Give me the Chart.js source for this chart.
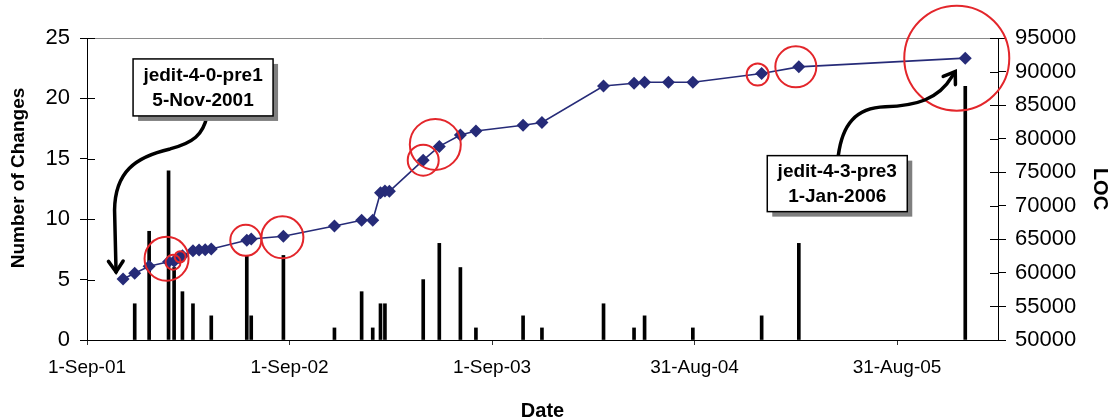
<!DOCTYPE html>
<html>
<head>
<meta charset="utf-8">
<script src="https://cdn.jsdelivr.net/npm/chart.js@4/dist/chart.umd.min.js"></script>
<style>
  html, body { margin: 0; padding: 0; background: #fff; }
</style>
</head>
<body>
<canvas id="chart" width="1112" height="419"></canvas>
<script>
// DATA (one entry per release)
const releaseDates = [
    '2001-11-05', '2001-11-26', '2001-12-22', '2002-01-26', '2002-02-05',
    '2002-02-14', '2002-02-20', '2002-03-11', '2002-03-22', '2002-04-02',
    '2002-04-13', '2002-06-16', '2002-06-24', '2002-08-21', '2002-11-21',
    '2003-01-09', '2003-01-29', '2003-02-12', '2003-02-20', '2003-02-28',
    '2003-04-30', '2003-05-29', '2003-07-06', '2003-08-03', '2003-10-27',
    '2003-11-30', '2004-03-20', '2004-05-14', '2004-06-02', '2004-07-15',
    '2004-08-28', '2004-12-30', '2005-03-07', '2006-01-01'
];
const locValues = [
    59100, 59950, 61000, 61650, 61750,
    62250, 62550, 63300, 63400, 63450,
    63550, 64850, 65050, 65450, 67000,
    67850, 67850, 71950, 72200, 72150,
    76800, 78850, 80550, 81150, 82000,
    82400, 87850, 88250, 88400, 88400,
    88400, 89700, 90700, 92000
];
const changeCounts = [
    0, 3, 9, 14, 6,
    0, 4, 3, 0, 0,
    2, 7, 2, 7, 1,
    4, 1, 3, 3, 0,
    5, 8, 6, 1, 2,
    1, 3, 1, 2, 0,
    1, 2, 8, 21
];
const tickDates = ['2001-09-01', '2002-09-01', '2003-09-01', '2004-08-31', '2005-08-31'];
const tickLabels = ['1-Sep-01', '1-Sep-02', '1-Sep-03', '31-Aug-04', '31-Aug-05'];
const axisStart = '2001-09-01';
const axisEnd = '2006-03-01';

// releases circled in red
const circledReleases = [3, 4, 5, 11, 13, 20, 21, 31, 32, 33];
// callout boxes
const calloutReleases = [0, 33];
const calloutTexts = [['jedit-4-0-pre1', '5-Nov-2001'], ['jedit-4-3-pre3', '1-Jan-2006']];

function dayOf(s) {
    return (Date.parse(s) - Date.parse(axisStart)) / 86400000;
}

const days = releaseDates.map(dayOf);
const navy = '#262b78';
const red = '#e3262b';

Chart.defaults.font.family = '"Liberation Sans", Arial, sans-serif';
Chart.defaults.color = '#000';

// circle look per circled release (pixels)
const circleStyle = {
    3: { r: 22, dx: -2, dy: -3 },
    4: { r: 7.5, dx: -1, dy: 1 },
    5: { r: 5.5, dx: 1, dy: -1 },
    11: { r: 15.5, dx: -1, dy: 0 },
    13: { r: 21, dx: -1, dy: 1 },
    20: { r: 15.5, dx: 0, dy: 0 },
    21: { r: 25.5, dx: -4, dy: -2 },
    31: { r: 11, dx: -4, dy: 1 },
    32: { r: 20.5, dx: -3, dy: 0 },
    33: { r: 52.5, dx: -8.5, dy: 0 }
};

// callout layout relative to the release point (pixels)
const calloutStyle = [
    {
        box: [10, -220, 140, 57],
        path: [[84, -163], [80, -144], [70, -136], [47, -130], [12, -122], [-8, -107], [-8.5, -69]],
        tip: [-7, -7]
    },
    {
        box: [-198, 97.5, 140, 56],
        path: [[-127, 97.7], [-123, 66.7], [-110, 49.7], [-80, 48.7], [-50, 47.7], [-27, 41.7], [-13, 18]],
        tip: [-10, 13.5]
    }
];

function arrowHead(ctx, tx, ty, fx, fy) {
    let a = Math.atan2(fy - ty, fx - tx);
    let len = 13;
    ctx.beginPath();
    ctx.moveTo(tx + Math.cos(a + 0.6) * len, ty + Math.sin(a + 0.6) * len);
    ctx.lineTo(tx, ty);
    ctx.lineTo(tx + Math.cos(a - 0.6) * len, ty + Math.sin(a - 0.6) * len);
    ctx.stroke();
}

const extras = {
    id: 'extras',
    afterDraw(chart) {
        const ctx = chart.ctx;
        const area = chart.chartArea;
        const x = chart.scales.x, y = chart.scales.y, y1 = chart.scales.y1;
        ctx.save();

        // gray top frame line
        ctx.strokeStyle = '#8a8a8a';
        ctx.lineWidth = 1;
        ctx.beginPath();
        ctx.moveTo(area.left, area.top + 0.5);
        ctx.lineTo(area.right, area.top + 0.5);
        ctx.stroke();

        // inner half of the crossing tick marks
        ctx.strokeStyle = '#000';
        y.ticks.forEach(t => {
            let py = Math.round(y.getPixelForValue(t.value)) + 0.5;
            ctx.beginPath();
            ctx.moveTo(area.left, py);
            ctx.lineTo(area.left + 8, py);
            ctx.stroke();
        });
        y1.ticks.forEach(t => {
            let py = Math.round(y1.getPixelForValue(t.value)) + 0.5;
            ctx.beginPath();
            ctx.moveTo(area.right - 8, py);
            ctx.lineTo(area.right, py);
            ctx.stroke();
        });

        // left axis title
        ctx.save();
        ctx.translate(18.5, 178);
        ctx.rotate(-Math.PI / 2);
        ctx.font = 'bold 19px "Liberation Sans", Arial, sans-serif';
        ctx.textAlign = 'center';
        ctx.textBaseline = 'middle';
        ctx.fillStyle = '#000';
        ctx.fillText('Number of Changes', 0, 0);
        ctx.restore();

        // red circles
        ctx.strokeStyle = red;
        ctx.lineWidth = 2;
        circledReleases.forEach(i => {
            let c = circleStyle[i];
            let px = x.getPixelForValue(days[i]) + c.dx;
            let py = y1.getPixelForValue(locValues[i]) + c.dy;
            ctx.beginPath();
            ctx.arc(px, py, c.r, 0, Math.PI * 2);
            ctx.stroke();
        });

        // callouts
        calloutReleases.forEach((i, k) => {
            let st = calloutStyle[k];
            let px = x.getPixelForValue(days[i]);
            let py = y1.getPixelForValue(locValues[i]);

            // arrow
            let p = st.path.map(q => [px + q[0], py + q[1]]);
            ctx.strokeStyle = '#000';
            ctx.lineWidth = 3.5;
            ctx.lineCap = 'round';
            ctx.lineJoin = 'miter';
            ctx.beginPath();
            ctx.moveTo(p[0][0], p[0][1]);
            ctx.bezierCurveTo(p[1][0], p[1][1], p[2][0], p[2][1], p[3][0], p[3][1]);
            ctx.bezierCurveTo(p[4][0], p[4][1], p[5][0], p[5][1], p[6][0], p[6][1]);
            let tx = px + st.tip[0], ty = py + st.tip[1];
            ctx.lineTo(tx, ty);
            ctx.stroke();
            arrowHead(ctx, tx, ty, p[6][0], p[6][1]);

            // box with shadow
            let bx = px + st.box[0], by = py + st.box[1], bw = st.box[2], bh = st.box[3];
            ctx.fillStyle = '#7f7f7f';
            ctx.fillRect(bx + 5, by + 5, bw, bh);
            ctx.fillStyle = '#fff';
            ctx.fillRect(bx, by, bw, bh);
            ctx.lineWidth = 1.5;
            ctx.strokeRect(bx, by, bw, bh);

            ctx.fillStyle = '#000';
            ctx.font = 'bold 19px "Liberation Sans", Arial, sans-serif';
            ctx.textAlign = 'center';
            ctx.textBaseline = 'middle';
            ctx.fillText(calloutTexts[k][0], bx + bw / 2, by + bh / 2 - 12);
            ctx.fillText(calloutTexts[k][1], bx + bw / 2, by + bh / 2 + 13);
        });

        ctx.restore();
    }
};

const chart = new Chart(document.getElementById('chart'), {
    type: 'bar',
    data: {
        datasets: [
            {
                type: 'line',
                label: 'LOC',
                data: days.map((d, i) => ({ x: d, y: locValues[i] })),
                yAxisID: 'y1',
                borderColor: navy,
                backgroundColor: navy,
                borderWidth: 1.6,
                pointStyle: 'rectRot',
                pointRadius: 6.5,
                pointBorderWidth: 0,
                tension: 0,
                order: 0
            },
            {
                type: 'bar',
                label: 'Number of Changes',
                // releases with no changes get no bar
                data: days.map((d, i) => ({ x: d, y: changeCounts[i] || null })),
                yAxisID: 'y',
                backgroundColor: '#000',
                barThickness: 3,
                order: 1
            }
        ]
    },
    options: {
        responsive: false,
        animation: false,
        layout: { padding: { top: 38, left: 0, right: 0, bottom: 0 } },
        plugins: { legend: { display: false }, tooltip: { enabled: false } },
        scales: {
            x: {
                type: 'linear',
                position: 'bottom',
                min: 0,
                max: dayOf(axisEnd),
                offset: false,
                afterBuildTicks: s => { s.ticks = tickDates.map(d => ({ value: dayOf(d) })); },
                afterFit: s => { s.height = 79; },
                ticks: {
                    callback: (v, i) => tickLabels[i],
                    font: { size: 19 },
                    padding: 11,
                    maxRotation: 0,
                    autoSkip: false
                },
                grid: { drawOnChartArea: false, offset: false, tickLength: 5, color: '#333' },
                border: { color: '#000', width: 1 },
                title: {
                    display: true,
                    text: 'Date',
                    font: { size: 20, weight: 'bold', lineHeight: 0.8 },
                    padding: 0
                }
            },
            y: {
                position: 'left',
                min: 0,
                max: 25,
                afterFit: s => { s.width = 87; },
                ticks: { stepSize: 5, font: { size: 22 }, padding: 10 },
                grid: { drawOnChartArea: false, tickLength: 7, color: '#000' },
                border: { color: '#000', width: 1 }
            },
            y1: {
                position: 'right',
                min: 50000,
                max: 95000,
                afterFit: s => { s.width = 114; },
                ticks: { stepSize: 5000, font: { size: 22 }, padding: 9, callback: v => String(v) },
                grid: { drawOnChartArea: false, tickLength: 8, color: '#000' },
                border: { color: '#000', width: 1 },
                title: {
                    display: true,
                    text: 'LOC',
                    font: { size: 20, weight: 'bold' },
                    padding: 0
                }
            }
        }
    },
    plugins: [extras]
});
</script>
</body>
</html>
